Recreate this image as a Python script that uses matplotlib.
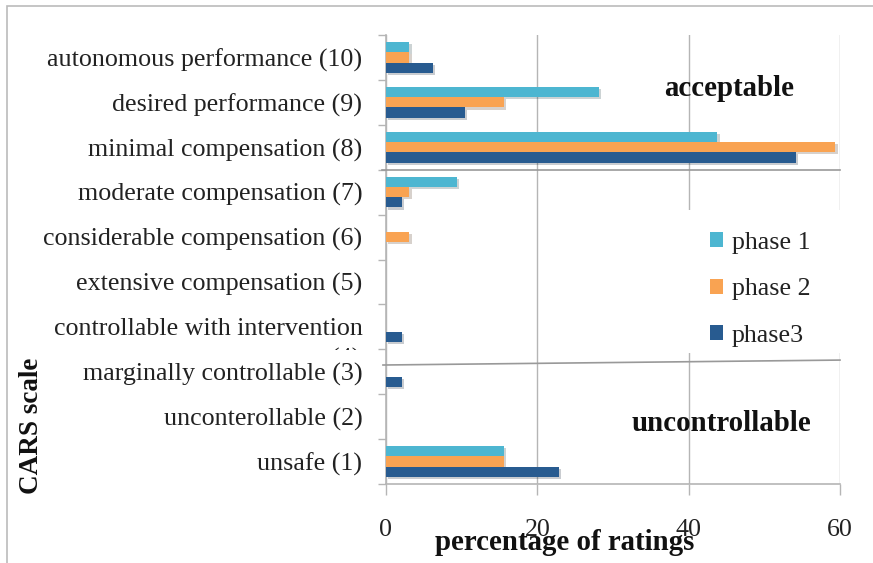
import matplotlib
matplotlib.use("Agg")
import matplotlib.pyplot as plt
import numpy as np
from matplotlib.patches import Rectangle
from matplotlib.transforms import Bbox, TransformedBbox
import matplotlib.patheffects as pe

# data (bottom -> top, as drawn on the y axis)
categories = [
    "unsafe (1)",
    "unconterollable (2)",
    "marginally controllable (3)",
    "controllable with intervention",
    "extensive compensation (5)",
    "considerable compensation (6)",
    "moderate compensation (7)",
    "minimal compensation (8)",
    "desired performance (9)",
    "autonomous performance (10)",
]
phase1 = [15.6, 0, 0, 0, 0, 0, 9.4, 43.8, 28.1, 3.1]
phase2 = [15.6, 0, 0, 0, 0, 3.1, 3.1, 59.4, 15.6, 3.1]
phase3 = [22.9, 0, 2.1, 2.1, 0, 0, 2.1, 54.2, 10.4, 6.25]
series_names = ["phase 1", "phase 2", "phase3"]
x_ticks = [0, 20, 40, 60]

C1 = "#4DB6D1"
C2 = "#F9A352"
C3 = "#285B90"
GRID = "#B5B5B5"
TEXT = "#222222"
FS = 18.7
FSB = 20.8

plt.rcParams["font.family"] = ["Liberation Serif", "DejaVu Serif"]

fig = plt.figure(figsize=(8.73, 5.63), dpi=100)
ax = fig.add_axes([386 / 873, 1 - 484 / 563, 454 / 873, 449 / 563])

# outer frame
fig.patches.append(Rectangle((7 / 873, -0.1), 1.2, 1 - 6 / 563 + 0.1,
                             transform=fig.transFigure, fill=False,
                             edgecolor="#BBBBBB", lw=1.2))

y = np.arange(len(categories))
h = 0.227
shadow = [pe.SimplePatchShadow(offset=(1.5, -1.5), alpha=0.22), pe.Normal()]
for vals, off, col, name in [(phase1, h, C1, series_names[0]),
                             (phase2, 0, C2, series_names[1]),
                             (phase3, -h, C3, series_names[2])]:
    bars = ax.barh(y + off, vals, height=h, color=col, label=name, zorder=3)
    for b in bars:
        b.set_path_effects(shadow)

ax.set_xlim(0, 60)
ax.set_ylim(-0.5, len(categories) - 0.5)
ax.set_xticks(x_ticks)
ax.set_yticks(y)
ax.set_yticklabels(categories)
ax.set_yticks(np.arange(-0.5, len(categories), 1), minor=True)
ax.tick_params(axis="y", which="major", length=0, pad=17, labelsize=FS, labelcolor=TEXT)
ax.tick_params(axis="y", which="minor", length=6, color=GRID, width=1)
ax.tick_params(axis="x", length=8, color=GRID, width=1, pad=17, labelsize=FS, labelcolor=TEXT)
ax.xaxis.grid(True, color=GRID, lw=1, zorder=0)
ax.set_axisbelow(True)
for s in ["top", "right"]:
    ax.spines[s].set_visible(False)
for s in ["left", "bottom"]:
    ax.spines[s].set_color(GRID)
    ax.spines[s].set_linewidth(1.2)

# separator lines between zones
ax.plot([-0.5, 60], [6.5, 6.5], color="#999999", lw=1.2, clip_on=False, zorder=4)
ax.plot([-0.4, 60], [2.15, 2.26], color="#999999", lw=1.2, clip_on=False, zorder=4)

ax.text(45.4, 8.3, "acceptable", fontsize=FSB, fontweight="bold", ha="center",
        va="center", color="#111111", zorder=5)
ax.text(44.3, 0.85, "uncontrollable", fontsize=FSB, fontweight="bold", ha="center",
        va="center", color="#111111", zorder=5)

# white area behind the legend (hides the grid there)
ax.add_patch(Rectangle((0.654, 0.292), 0.36, 0.318, transform=ax.transAxes,
                       facecolor="white", edgecolor="none", zorder=2.5,
                       clip_on=False))
leg = ax.legend(loc="upper left", bbox_to_anchor=(0.690, 0.585),
                frameon=False, fontsize=FS, handlelength=0.5, handleheight=0.5,
                labelspacing=0.95, borderpad=0.4, handletextpad=0.35,
                borderaxespad=0)
leg.set_zorder(6)
for hd in leg.legend_handles:
    hd.set_path_effects([])
for t in leg.get_texts():
    t.set_color(TEXT)

# clipped second line of the (4) label
t4 = fig.text(346 / 873, 1 - 359 / 563, "(4)", fontsize=FS, ha="center",
              va="center", color=TEXT)
t4.set_clip_box(TransformedBbox(Bbox([[0, 1 - 350 / 563], [1, 1]]), fig.transFigure))
t4.set_clip_on(True)

fig.text(565 / 873, 1 - 543 / 563, "percentage of ratings", fontsize=FSB,
         fontweight="bold", ha="center", va="center", color="#111111")
fig.text(32 / 873, 1 - 426 / 563, "CARS scale", fontsize=19.5, fontweight="bold",
         ha="center", va="center", rotation=90, color="#111111")

fig.savefig("out.png", dpi=100, facecolor="white")
